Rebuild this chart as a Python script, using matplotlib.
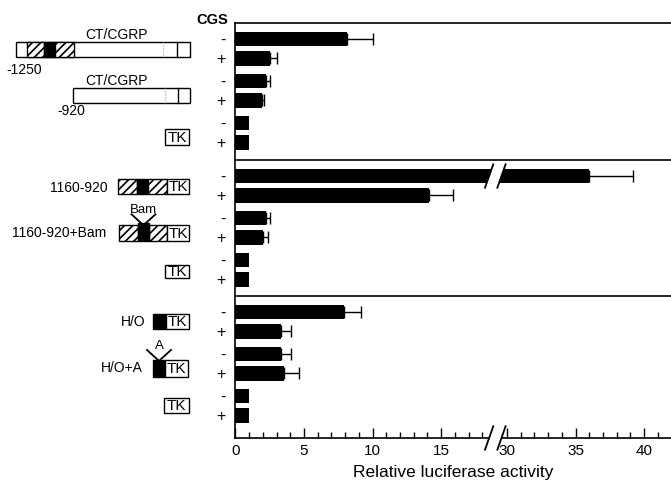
import numpy as np
import matplotlib
matplotlib.use("Agg")
import matplotlib.pyplot as plt
from matplotlib.patches import Rectangle, Polygon
from matplotlib.ticker import FixedLocator, NullLocator

plt.rcParams['font.family'] = ['Liberation Sans', 'DejaVu Sans']
plt.rcParams['hatch.linewidth'] = 1.2

# Relative luciferase activity (mean, upper error), - / + CGS for each construct.
ctcgrp_mean = [8.1, 2.55, 2.2, 1.95, 1.0, 1.0]
ctcgrp_err = [1.95, 0.5, 0.35, 0.15, 0.0, 0.0]
enh_mean = [36.0, 14.1, 2.2, 2.0, 1.0, 1.0]
enh_err = [3.2, 1.8, 0.3, 0.4, 0.0, 0.0]
ho_mean = [7.9, 3.35, 3.35, 3.55, 1.0, 1.0]
ho_err = [1.25, 0.7, 0.7, 1.05, 0.0, 0.0]
cgs_signs = ['-', '+', '-', '+', '-', '+']
major_ticks = [0, 5, 10, 15, 30, 35, 40]

# Broken x axis: everything above 25 is pulled left by SHIFT.
SHIFT = 10.2
BREAKS = [18.5, 19.4]


def brk(v):
    v = np.asarray(v, dtype=float)
    return np.where(v > 25, v - SHIFT, v)


# Figure layout in pixels (671 x 480 at 100 dpi).
W, H = 671, 480
X0, Y_TOP, Y_BOT = 235.5, 23, 438
PX_PER_UNIT = 13.71
panel_top = [23, 160, 296]

fig = plt.figure(figsize=(W / 100, H / 100), dpi=100)

# Overlay axes in pixel units for the construct drawings.
ov = fig.add_axes([0, 0, 1, 1])
ov.set_xlim(0, W)
ov.set_ylim(H, 0)
ov.axis('off')

ax = fig.add_axes([X0 / W, (H - Y_BOT) / H, (W - X0) / W, (Y_BOT - Y_TOP) / H])
ax.set_facecolor('none')
ax.set_xlim(0, (W - X0) / PX_PER_UNIT)
ax.set_ylim(Y_BOT, Y_TOP)

means = [ctcgrp_mean, enh_mean, ho_mean]
errs = [ctcgrp_err, enh_err, ho_err]
ypos_all = []
for p in range(3):
    ypos = [panel_top[p] + 16 + 42 * (i // 2) + 19.5 * (i % 2) for i in range(6)]
    ypos_all += ypos
    m = np.array(means[p])
    e = np.array(errs[p])
    ax.barh(ypos, brk(m), height=14.5, color='black')
    has_err = e > 0
    ax.errorbar(brk(m[has_err]), np.array(ypos)[has_err],
                xerr=[np.zeros(has_err.sum()), brk(m + e)[has_err] - brk(m)[has_err]],
                fmt='none', ecolor='black', elinewidth=1, capsize=4.5, capthick=1)


# break marks on the long bar and on the x axis
def break_marks(yc, half_h):
    dx = 0.3
    pts = [(BREAKS[0] - dx, yc + half_h), (BREAKS[0] + dx, yc - half_h),
           (BREAKS[1] + dx, yc - half_h), (BREAKS[1] - dx, yc + half_h)]
    ax.add_patch(Polygon(pts, closed=True, facecolor='white', edgecolor='none',
                         clip_on=False, zorder=5))
    for b in BREAKS:
        ax.plot([b - dx, b + dx], [yc + half_h, yc - half_h], color='black',
                lw=1.3, clip_on=False, zorder=6)


break_marks(panel_top[1] + 16, 11.7)
break_marks(Y_BOT, 11.7)

ax.axhline(panel_top[1], color='black', lw=1.2)
ax.axhline(panel_top[2], color='black', lw=1.2)

ax.set_xticks(brk(major_ticks), labels=[str(t) for t in major_ticks])
minor = [t for t in list(range(1, 19)) + list(range(31, 42)) if t % 5 != 0]
ax.xaxis.set_minor_locator(FixedLocator(brk(minor)))
ax.yaxis.set_minor_locator(NullLocator())
ax.tick_params(axis='x', which='major', direction='in', length=7, width=1,
               labelsize=11, pad=4)
ax.tick_params(axis='x', which='minor', direction='in', length=4, width=1,
               bottom=True)
ax.set_yticks(ypos_all, labels=cgs_signs * 3)
ax.tick_params(axis='y', length=0, pad=7, labelsize=11.5)
ax.spines['right'].set_visible(False)
for s in ['top', 'left', 'bottom']:
    ax.spines[s].set_linewidth(1.2)
ax.set_xlabel('Relative luciferase activity', fontsize=12.5, labelpad=5)

ov.text(212, 20, 'CGS', ha='center', va='center', fontsize=10.5, weight='bold')


# ---- construct drawings ----
def block(x0, x1, y0, y1, kind):
    if kind == 'h':
        ov.add_patch(Rectangle((x0, y0), x1 - x0, y1 - y0, facecolor='white',
                               edgecolor='black', hatch='////', lw=1))
    else:
        ov.add_patch(Rectangle((x0, y0), x1 - x0, y1 - y0,
                               facecolor='black' if kind == 'k' else 'white',
                               edgecolor='black', lw=1))


def tk(x0, x1, y0, y1):
    block(x0, x1, y0, y1, 'w')
    ov.text((x0 + x1) / 2, (y0 + y1) / 2 + 0.5, 'TK', ha='center', va='center',
            fontsize=11)


def notch(xc, ytop, label):
    ov.plot([xc - 12, xc - 1], [ytop - 10, ytop], color='black', lw=1.3)
    ov.plot([xc + 12, xc + 1], [ytop - 10, ytop], color='black', lw=1.3)
    ov.text(xc, ytop - 14, label, ha='center', va='center', fontsize=9.5)


# CT/CGRP -1250
y0, y1 = 42, 57
block(16, 190, y0, y1, 'w')
block(26.7, 44.3, y0, y1, 'h')
block(44.3, 55, y0, y1, 'k')
block(55, 74, y0, y1, 'h')
ov.plot([163.3, 163.3], [y0, y1], color='0.6', lw=0.8, ls=':')
ov.plot([177.3, 177.3], [y0, y1], color='black', lw=1)
ov.text(117, 35, 'CT/CGRP', ha='center', va='center', fontsize=10)
ov.text(6, 70, '-1250', ha='left', va='center', fontsize=10)

# CT/CGRP -920
y0, y1 = 88, 103
block(72.7, 190, y0, y1, 'w')
ov.plot([165, 165], [y0, y1], color='0.6', lw=0.8, ls=':')
ov.plot([177.7, 177.7], [y0, y1], color='black', lw=1)
ov.text(117, 81, 'CT/CGRP', ha='center', va='center', fontsize=10)
ov.text(57, 111, '-920', ha='left', va='center', fontsize=10)

tk(165, 189.3, 129, 145)

# 1160-920
y0, y1 = 179.3, 194.3
block(118.3, 136.7, y0, y1, 'h')
block(136.7, 148.3, y0, y1, 'k')
block(148.3, 166.7, y0, y1, 'h')
tk(166.7, 189.3, y0, y1)
ov.text(108, 187.5, '1160-920', ha='right', va='center', fontsize=10)

# 1160-920+Bam
y0, y1 = 225.3, 240.7
block(119, 138.3, y0, y1, 'h')
block(149, 166.7, y0, y1, 'h')
block(138.3, 149, y0 - 2, y1, 'k')
tk(166.7, 189.3, y0, y1)
notch(143.5, y0 - 1, 'Bam')
ov.text(106, 233, '1160-920+Bam', ha='right', va='center', fontsize=10)

tk(165, 189.3, 265, 278.3)

# H/O
y0, y1 = 314, 329.3
block(153.3, 165.7, y0, y1, 'k')
tk(165.7, 189.3, y0, y1)
ov.text(145, 321.5, 'H/O', ha='right', va='center', fontsize=10)

# H/O+A
y0, y1 = 360, 376.7
block(152.7, 165, y0, y1, 'k')
tk(165, 188.3, y0, y1)
notch(159, y0, 'A')
ov.text(142.7, 368, 'H/O+A', ha='right', va='center', fontsize=10)

tk(164.3, 189.3, 398.3, 413.3)

fig.savefig('out.png', dpi=100)
